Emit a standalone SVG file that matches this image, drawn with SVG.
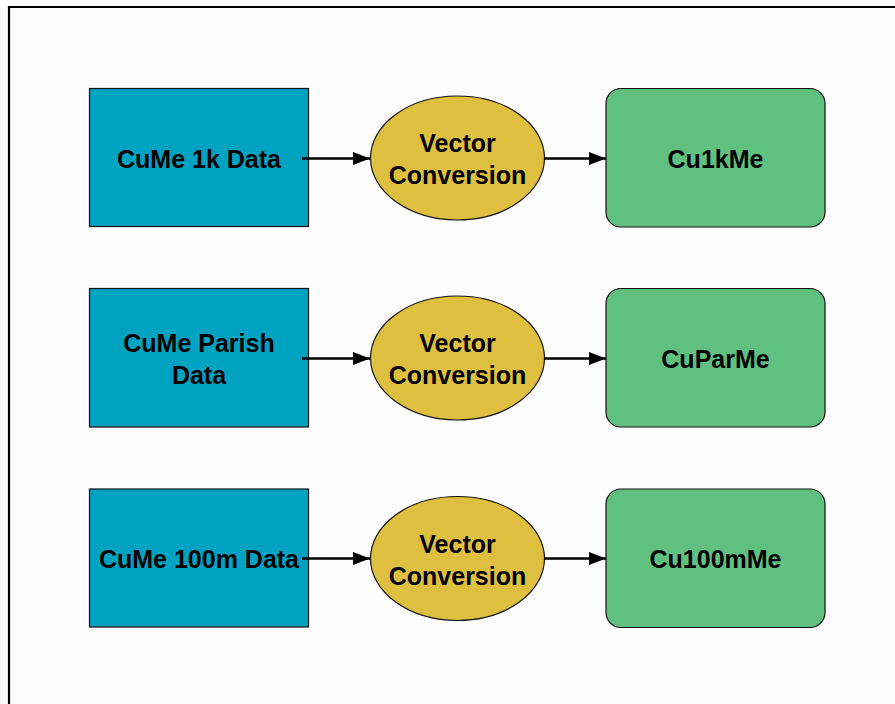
<svg xmlns="http://www.w3.org/2000/svg" width="895" height="704" viewBox="0 0 895 704">
  <style>
    .src { fill: #00A2C2; stroke: #111; stroke-width: 1.2; }
    .proc { fill: #DFBF40; stroke: #111; stroke-width: 1.2; }
    .out { fill: #60C080; stroke: #111; stroke-width: 1.2; }
    .label { font-family: "Liberation Sans", Arial, sans-serif; font-weight: bold; font-size: 25px; fill: #000; text-anchor: middle; }
    .edge { stroke: #000; stroke-width: 2.6; fill: none; marker-end: url(#head); }
  </style>
  <defs>
    <marker id="head" viewBox="0 0 17 13" refX="17" refY="6.5" markerWidth="17" markerHeight="13" markerUnits="userSpaceOnUse" orient="auto">
      <path d="M0,0 L17,6.5 L0,13 Z" fill="#000"/>
    </marker>
  </defs>

  <rect x="0" y="0" width="895" height="704" fill="#FDFDFD"/>
  <!-- frame: top and left edges -->
  <path d="M9,704 V7 H895" fill="none" stroke="#000" stroke-width="2.2"/>

  <!-- row 1 -->
  <g id="cume-1k-data">
    <rect class="src" x="89.5" y="88.5" width="219" height="138"/>
    <text class="label" x="199" y="167.5">CuMe 1k Data</text>
  </g>
  <g id="vector-conversion-1">
    <ellipse class="proc" cx="457.5" cy="158" rx="87" ry="62"/>
    <text class="label" x="457.5" y="152">Vector</text>
    <text class="label" x="457.5" y="184">Conversion</text>
  </g>
  <g id="cu1kme">
    <rect class="out" x="606" y="88.5" width="219" height="138.5" rx="15" ry="15"/>
    <text class="label" x="715.5" y="168">Cu1kMe</text>
  </g>

  <!-- row 2 -->
  <g id="cume-parish-data">
    <rect class="src" x="89.5" y="288.5" width="219" height="138.5"/>
    <text class="label" x="199" y="352">CuMe Parish</text>
    <text class="label" x="199" y="384">Data</text>
  </g>
  <g id="vector-conversion-2">
    <ellipse class="proc" cx="457.5" cy="358" rx="87" ry="62"/>
    <text class="label" x="457.5" y="352">Vector</text>
    <text class="label" x="457.5" y="384">Conversion</text>
  </g>
  <g id="cuparme">
    <rect class="out" x="606" y="288.5" width="219" height="138.5" rx="15" ry="15"/>
    <text class="label" x="715.5" y="368">CuParMe</text>
  </g>

  <!-- row 3 -->
  <g id="cume-100m-data">
    <rect class="src" x="89.5" y="489" width="219" height="138"/>
    <text class="label" x="199" y="568">CuMe 100m Data</text>
  </g>
  <g id="vector-conversion-3">
    <ellipse class="proc" cx="457.5" cy="558.5" rx="87" ry="62"/>
    <text class="label" x="457.5" y="552.5">Vector</text>
    <text class="label" x="457.5" y="584.5">Conversion</text>
  </g>
  <g id="cu100mme">
    <rect class="out" x="606" y="489" width="219" height="138.5" rx="15" ry="15"/>
    <text class="label" x="715.5" y="568">Cu100mMe</text>
  </g>

  <!-- connectors -->
  <g id="connectors">
    <line class="edge" x1="302" y1="158.5" x2="370" y2="158.5"/>
    <line class="edge" x1="544" y1="158.5" x2="606" y2="158.5"/>
    <line class="edge" x1="302" y1="358.5" x2="370" y2="358.5"/>
    <line class="edge" x1="544" y1="358.5" x2="606" y2="358.5"/>
    <line class="edge" x1="302" y1="558.5" x2="370" y2="558.5"/>
    <line class="edge" x1="544" y1="558.5" x2="606" y2="558.5"/>
  </g>
</svg>
